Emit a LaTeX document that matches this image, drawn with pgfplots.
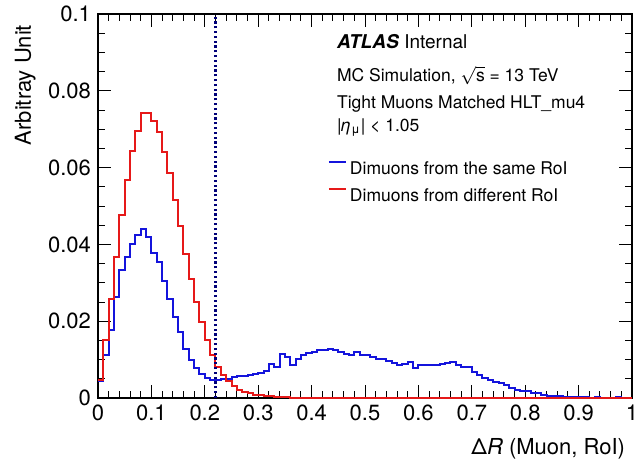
\documentclass[border=0pt]{standalone}
\usepackage{pgfplots}
\pgfplotsset{compat=1.18}
\usepackage{fontspec}
\setmainfont{TeX Gyre Heros}
\definecolor{hblue}{RGB}{20,20,220}
\definecolor{hred}{RGB}{230,25,25}
\definecolor{navyd}{RGB}{0,0,120}
\pgfplotstableread{
x y
0.00 0.0044
0.01 0.0113
0.02 0.0176
0.03 0.0263
0.04 0.0334
0.05 0.0367
0.06 0.0402
0.07 0.0424
0.08 0.0439
0.09 0.0419
0.10 0.0378
0.11 0.0354
0.12 0.0306
0.13 0.0259
0.14 0.0211
0.15 0.0172
0.16 0.0128
0.17 0.0100
0.18 0.0078
0.19 0.0063
0.20 0.0053
0.21 0.0047
0.22 0.0046
0.23 0.0050
0.24 0.0050
0.25 0.0054
0.26 0.0057
0.27 0.0058
0.28 0.0060
0.29 0.0063
0.30 0.0066
0.31 0.0071
0.32 0.0089
0.33 0.0081
0.34 0.0114
0.35 0.0106
0.36 0.0087
0.37 0.0102
0.38 0.0111
0.39 0.0117
0.40 0.0121
0.41 0.0124
0.42 0.0126
0.43 0.0127
0.44 0.0125
0.45 0.0121
0.46 0.0115
0.47 0.0113
0.48 0.0121
0.49 0.0111
0.50 0.0111
0.51 0.0108
0.52 0.0102
0.53 0.0101
0.54 0.0096
0.55 0.0090
0.56 0.0087
0.57 0.0088
0.58 0.0093
0.59 0.0078
0.60 0.0087
0.61 0.0087
0.62 0.0086
0.63 0.0085
0.64 0.0088
0.65 0.0091
0.66 0.0093
0.67 0.0085
0.68 0.0081
0.69 0.0080
0.70 0.0067
0.71 0.0060
0.72 0.0053
0.73 0.0047
0.74 0.0041
0.75 0.0039
0.76 0.0035
0.77 0.0026
0.78 0.0021
0.79 0.0018
0.80 0.0017
0.81 0.0013
0.82 0.0012
0.83 0.0007
0.84 0.0006
0.85 0.0006
0.86 0.0004
0.87 0.0003
0.88 0.0003
0.89 0.0002
0.90 0.0002
0.91 0.0002
0.92 0.0001
0.93 0.0002
0.94 0.0001
0.95 0.0001
0.96 0.0001
0.97 0.0002
0.98 0.0001
0.99 0.0000
1.00 0.0000
}\bluedata
\pgfplotstableread{
x y
0.00 0.0046
0.01 0.0150
0.02 0.0259
0.03 0.0367
0.04 0.0476
0.05 0.0567
0.06 0.0643
0.07 0.0696
0.08 0.0741
0.09 0.0743
0.10 0.0722
0.11 0.0693
0.12 0.0641
0.13 0.0585
0.14 0.0515
0.15 0.0447
0.16 0.0376
0.17 0.0309
0.18 0.0250
0.19 0.0199
0.20 0.0150
0.21 0.0111
0.22 0.0082
0.23 0.0059
0.24 0.0044
0.25 0.0030
0.26 0.0021
0.27 0.0016
0.28 0.0012
0.29 0.0009
0.30 0.0007
0.31 0.0005
0.32 0.0004
0.33 0.0003
0.34 0.0002
0.35 0.0002
0.36 0.0001
0.40 0.0001
0.45 0.0001
0.50 0.0001
0.55 0.0001
0.60 0.00005
0.70 0.00003
0.80 0.00003
0.90 0.00003
1.00 0.00003
}\reddata
\begin{document}
\begin{tikzpicture}
\begin{axis}[name=ax, scale only axis, width=267pt, height=192pt,
  xmin=0, xmax=1, ymin=0, ymax=0.1,
  xtick={0,0.1,0.2,0.3,0.4,0.5,0.6,0.7,0.8,0.9,1},
  xticklabels={0,0.1,0.2,0.3,0.4,0.5,0.6,0.7,0.8,0.9,1},
  ytick={0,0.02,0.04,0.06,0.08,0.1},
  yticklabels={0,0.02,0.04,0.06,0.08,0.1},
  minor x tick num=4, minor y tick num=3,
  tick align=inside,
  major tick length=6.5pt, minor tick length=3.5pt,
  tick style={black, line width=0.5pt},
  axis line style={line width=0.6pt},
  tick label style={font=\fontsize{11}{13}\selectfont},
  clip=false,
  legend style={at={(0.4307,0.6172)}, anchor=north west, draw=none, fill=none,
    inner sep=0pt, outer sep=0pt, row sep=6.75pt,
    font=\fontsize{8.75}{10.5}\selectfont,
    nodes={inner sep=0pt, text height=6.4pt, text depth=0pt}},
  legend cell align=left,
  legend image code/.code={\draw[#1] (0pt,3pt) -- (8.5pt,3pt); \path (10pt,3pt);},
]
\addplot[hblue, line width=1pt, const plot mark left] table[x=x,y=y] {\bluedata};
\addlegendentry{Dimuons from the same RoI}
\addplot[hred, line width=1pt, const plot mark left] table[x=x,y=y] {\reddata};
\addlegendentry{Dimuons from different RoI}
\addplot[navyd, line width=1.1pt, dash pattern=on 1.1pt off 1.3pt, forget plot] coordinates {(0.22,0) (0.22,0.1)};
\node[anchor=base west, font=\fontsize{9.5}{11}\selectfont] at (rel axis cs:0.4345,0.910) {\textbf{\textit{ATLAS}} Internal};
\node[anchor=base west, font=\fontsize{8.75}{10.5}\selectfont] at (rel axis cs:0.4345,0.824) {MC Simulation, $\sqrt{\mbox{s}}$ = 13 TeV};
\node[anchor=base west, font=\fontsize{8.75}{10.5}\selectfont] at (rel axis cs:0.4345,0.755) {Tight Muons Matched HLT\_mu4};
\node[anchor=base west, font=\fontsize{8.75}{10.5}\selectfont] at (rel axis cs:0.4345,0.693) {|\textit{η}\textsubscript{μ}| < 1.05};
\node[anchor=base east, font=\fontsize{11}{13}\selectfont] at (rel axis cs:1,-0.148) {Δ\textit{R} (Muon, RoI)};
\node[rotate=90, anchor=base east, font=\fontsize{11}{13}\selectfont] at (rel axis cs:-0.1255,0.990) {Arbitray Unit};
\end{axis}
\pgfresetboundingbox
\path[use as bounding box] ([shift={(-49pt,-34pt)}]ax.south west) rectangle ([shift={(1.5pt,7pt)}]ax.north east);
\end{tikzpicture}
\end{document}
